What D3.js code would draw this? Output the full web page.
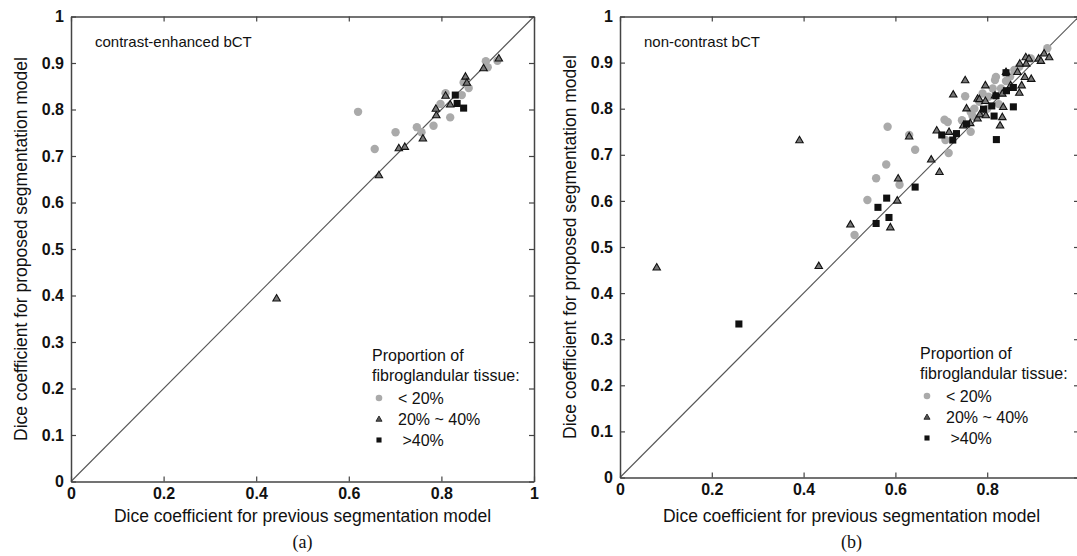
<!DOCTYPE html>
<html>
<head>
<meta charset="utf-8">
<script src="https://cdn.jsdelivr.net/npm/d3@7"></script>
<style>
body { margin: 0; background: #fff; }
text { font-family: "Liberation Sans", Arial, sans-serif; fill: #111; }
.tick text { font-size: 16px; font-weight: bold; }
.lbl { font-size: 17.5px; }
.ttl { font-size: 15px; }
.leg { font-size: 16px; }
.cap { font-family: "Liberation Serif", "Times New Roman", serif; font-size: 18px; }
</style>
</head>
<body>
<svg id="fig" width="1077" height="556"></svg>
<script>
// tick values
var xTicks = [0, 0.2, 0.4, 0.6, 0.8, 1];
var yTicks = [0, 0.1, 0.2, 0.3, 0.4, 0.5, 0.6, 0.7, 0.8, 0.9, 1];
var legendLabels = ["< 20%", "20% ~ 40%", " >40%"];

// (a) contrast-enhanced bCT  [previous, proposed]
var ceLow = [[0.62,0.795],[0.656,0.715],[0.701,0.751],[0.747,0.762],[0.757,0.751],[0.783,0.765],
  [0.819,0.783],[0.798,0.812],[0.809,0.835],[0.844,0.831],[0.848,0.858],[0.859,0.846],
  [0.896,0.904],[0.900,0.891],[0.921,0.905]];
var ceMid = [[0.444,0.394],[0.665,0.659],[0.708,0.717],[0.721,0.720],[0.760,0.738],[0.789,0.788],
  [0.788,0.802],[0.819,0.811],[0.809,0.830],[0.852,0.871],[0.855,0.858],[0.891,0.889],[0.924,0.910]];
var ceHigh = [[0.830,0.831],[0.834,0.813],[0.848,0.803]];

// (b) non-contrast bCT
var ncLow = [[0.511,0.526],[0.539,0.602],[0.558,0.649],[0.609,0.635],[0.583,0.761],[0.643,0.711],
  [0.580,0.679],[0.630,0.743],[0.709,0.732],[0.716,0.704],[0.707,0.776],[0.714,0.771],[0.745,0.775],
  [0.764,0.750],[0.768,0.784],[0.772,0.800],[0.764,0.793],[0.783,0.815],[0.752,0.827],[0.790,0.833],
  [0.803,0.826],[0.812,0.844],[0.830,0.844],[0.825,0.810],[0.819,0.869],[0.817,0.862],[0.841,0.860],
  [0.859,0.884],[0.870,0.891],[0.895,0.909],[0.931,0.931],[0.800,0.800],[0.850,0.870]];
var ncMid = [[0.080,0.456],[0.433,0.459],[0.502,0.549],[0.589,0.543],[0.604,0.601],[0.606,0.649],
  [0.391,0.732],[0.630,0.740],[0.678,0.690],[0.696,0.663],[0.690,0.753],[0.717,0.750],[0.748,0.764],
  [0.763,0.769],[0.779,0.779],[0.784,0.788],[0.755,0.801],[0.726,0.831],[0.752,0.862],[0.779,0.822],
  [0.783,0.821],[0.796,0.817],[0.797,0.786],[0.796,0.851],[0.817,0.829],[0.833,0.833],[0.835,0.804],
  [0.833,0.782],[0.828,0.764],[0.841,0.880],[0.851,0.851],[0.870,0.835],[0.875,0.851],[0.882,0.869],
  [0.896,0.865],[0.866,0.880],[0.871,0.898],[0.884,0.912],[0.891,0.909],[0.885,0.898],[0.912,0.909],
  [0.917,0.904],[0.924,0.920],[0.935,0.912]];
var ncHigh = [[0.259,0.333],[0.558,0.551],[0.562,0.586],[0.581,0.606],[0.586,0.564],[0.643,0.630],
  [0.701,0.743],[0.733,0.746],[0.725,0.732],[0.755,0.767],[0.792,0.799],[0.810,0.806],[0.819,0.828],
  [0.815,0.784],[0.857,0.804],[0.820,0.733],[0.842,0.839],[0.857,0.846],[0.841,0.878]];

var svg = d3.select("#fig");
var fmt = function(d){ return d === 0 ? "0" : d === 1 ? "1" : d3.format(".1f")(d); };

function drawPanel(p) {
  var x = d3.scaleLinear().domain([0,1]).range([p.x0, p.x1]);
  var y = d3.scaleLinear().domain([0,1]).range([p.y0, p.y1]);
  var g = svg.append("g");

  // diagonal
  g.append("line")
    .attr("x1", x(0)).attr("y1", y(0)).attr("x2", x(1)).attr("y2", y(1))
    .attr("stroke", "#555").attr("stroke-width", 1.1);

  // points
  g.selectAll(".low").data(p.low).enter().append("circle")
    .attr("cx", function(d){ return x(d[0]); })
    .attr("cy", function(d){ return y(d[1]); })
    .attr("r", 4.2).attr("fill", "#aaa");
  g.selectAll(".mid").data(p.mid).enter().append("path")
    .attr("d", d3.symbol().type(d3.symbolTriangle).size(24))
    .attr("transform", function(d){ return "translate(" + x(d[0]) + "," + (y(d[1]) + 0.5) + ")"; })
    .attr("fill", "#777").attr("stroke", "#111").attr("stroke-width", 1.1);
  g.selectAll(".high").data(p.high).enter().append("path")
    .attr("d", d3.symbol().type(d3.symbolSquare).size(50))
    .attr("transform", function(d){ return "translate(" + x(d[0]) + "," + y(d[1]) + ")"; })
    .attr("fill", "#111");

  // axes, ticks pointing inward on all four sides
  var ax = [
    g.append("g").attr("transform", "translate(0," + p.y0 + ")")
      .call(d3.axisBottom(x).tickValues(xTicks).tickFormat(function(d){ return (p.cut && d === 1) ? "" : fmt(d); })
        .tickSizeInner(-5).tickSizeOuter(0).tickPadding(6)),
    g.append("g").attr("transform", "translate(" + p.x0 + ",0)")
      .call(d3.axisLeft(y).tickValues(yTicks).tickFormat(fmt).tickSizeInner(-5).tickSizeOuter(0).tickPadding(7)),
    g.append("g").attr("transform", "translate(0," + p.y1 + ")")
      .call(d3.axisTop(x).tickValues(xTicks).tickFormat("").tickSizeInner(-5).tickSizeOuter(0)),
    g.append("g").attr("transform", "translate(" + p.x1 + ",0)")
      .call(d3.axisRight(y).tickValues(yTicks).tickFormat("").tickSizeInner(-5).tickSizeOuter(0))
  ];
  ax.forEach(function(a){
    a.select(".domain").attr("stroke", "#444").attr("stroke-width", 1.5);
    a.selectAll(".tick line").attr("stroke", "#444").attr("stroke-width", 1.2);
    a.selectAll(".tick text").attr("fill", "#111");
  });

  // titles and labels
  g.append("text").attr("class", "ttl")
    .attr("x", x(0) + 24).attr("y", y(0.945)).attr("dy", "0.35em")
    .text(p.title);
  g.append("text").attr("class", "lbl")
    .attr("text-anchor", "middle")
    .attr("x", (p.x0 + p.x0 + 463) / 2).attr("y", 522)
    .text("Dice coefficient for previous segmentation model");
  g.append("text").attr("class", "lbl")
    .attr("text-anchor", "middle")
    .attr("transform", "translate(" + (x(0) - 44) + "," + ((y(0) + y(1)) / 2) + ") rotate(-90)")
    .text("Dice coefficient for proposed segmentation model");
  g.append("text").attr("class", "cap")
    .attr("text-anchor", "middle")
    .attr("x", (p.x0 + p.x0 + 463) / 2).attr("y", 548)
    .text(p.cap);

  // legend
  var lg = g.append("g").attr("transform", "translate(" + p.lx + "," + p.ly + ")");
  lg.append("text").attr("class", "leg").attr("x", 0).attr("y", 0).attr("dy", "0.35em").text("Proportion of");
  lg.append("text").attr("class", "leg").attr("x", 0).attr("y", 20).attr("dy", "0.35em").text("fibroglandular tissue:");
  legendLabels.forEach(function(t, i){
    var yy = 43 + i * 21;
    if (i === 0) lg.append("circle").attr("cx", 7).attr("cy", yy).attr("r", 3.3).attr("fill", "#aaa");
    if (i === 1) lg.append("path").attr("d", d3.symbol().type(d3.symbolTriangle).size(16))
      .attr("transform", "translate(7," + (yy + 0.5) + ")").attr("fill", "#555").attr("stroke", "#111").attr("stroke-width", 0.8);
    if (i === 2) lg.append("path").attr("d", d3.symbol().type(d3.symbolSquare).size(26))
      .attr("transform", "translate(7," + yy + ")").attr("fill", "#111");
    lg.append("text").attr("class", "leg").attr("x", 26).attr("y", yy).attr("dy", "0.35em")
      .attr("xml:space", "preserve").style("white-space", "pre").text(t);
  });
}

drawPanel({x0: 71, x1: 534, y0: 481.5, y1: 16.5, low: ceLow, mid: ceMid, high: ceHigh,
  title: "contrast-enhanced bCT", cap: "(a)", lx: 372, ly: 355, cut: false});
drawPanel({x0: 620, x1: 1079, y0: 477.5, y1: 16.5, low: ncLow, mid: ncMid, high: ncHigh,
  title: "non-contrast bCT", cap: "(b)", lx: 920, ly: 353, cut: true});
</script>
</body>
</html>
